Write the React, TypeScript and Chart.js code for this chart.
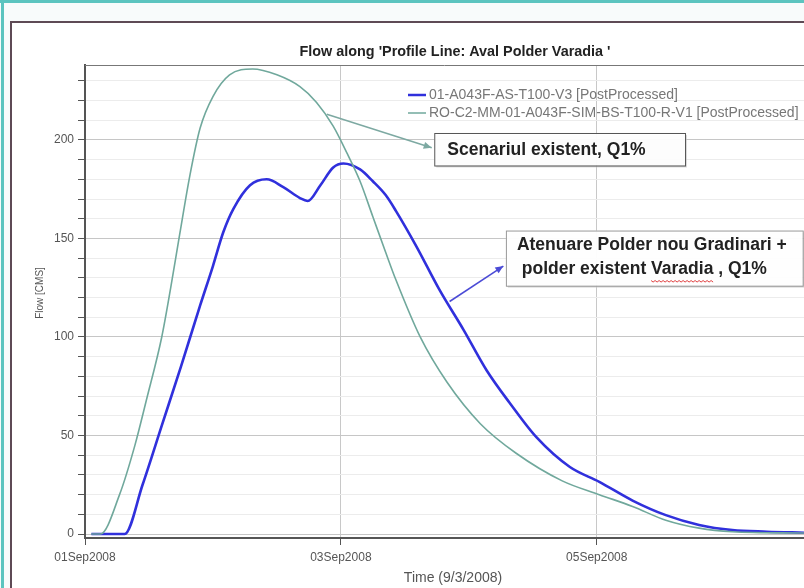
import React, { useEffect, useRef } from "react";
import { Chart, registerables } from "chart.js";

Chart.register(...registerables);

// ---- data ----
const xTickLabels = ["01Sep2008", "03Sep2008", "05Sep2008"];
const xTickDays = [0, 2, 4];

const seriesNames = [
  "01-A043F-AS-T100-V3 [PostProcessed]",
  "RO-C2-MM-01-A043F-SIM-BS-T100-R-V1 [PostProcessed]",
];

// days after 01Sep2008 00:00
const blueDays = [0.05, 0.31, 0.45, 0.6, 0.75, 0.9, 1.0, 1.08, 1.16, 1.29, 1.42, 1.55, 1.68, 1.74, 1.84, 1.94, 2.02, 2.15, 2.25, 2.35, 2.43, 2.59, 2.77, 2.96, 3.14, 3.32, 3.53, 3.79, 4.02, 4.28, 4.54, 4.8, 5.06, 5.33, 5.62];
const blueFlow = [0, 0, 25, 55, 85, 116, 136, 153, 165, 177, 180, 176, 170.5, 169, 177, 186, 188, 185, 179, 172, 164, 146, 124, 103.5, 83, 66.5, 49, 34, 26.5, 17, 9.6, 4.6, 2, 1.2, 0.7];

const greenDays = [0.05, 0.12, 0.27, 0.39, 0.48, 0.6, 0.67, 0.74, 0.82, 0.9, 1.0, 1.13, 1.31, 1.5, 1.68, 1.81, 1.94, 2.05, 2.15, 2.25, 2.35, 2.43, 2.62, 2.83, 3.09, 3.37, 3.73, 4.02, 4.28, 4.54, 4.8, 5.06, 5.62];
const greenFlow = [0, 0, 20, 45, 68, 100, 125, 152, 182, 206, 222, 233, 236, 233, 227, 219, 207, 193, 179, 161, 143, 129, 100, 77, 56, 41, 27, 20, 14, 7, 3, 1.2, 0.5];

const chartTitle = "Flow along 'Profile Line: Aval Polder Varadia '";
const yAxisTitle = "Flow [CMS]";
const xAxisTitle = "Time (9/3/2008)";

const note1Lines = ["Scenariul existent, Q1%"];
const note2Lines = ["Atenuare Polder nou Gradinari +", " polder existent Varadia , Q1%"];

// annotation anchors in data units (day, flow)
const note1Arrow = [[1.89, 213], [2.71, 196]];
const note1Box = [[2.73, 203.5], [4.69, 187]];
const note2Arrow = [[2.85, 118], [3.27, 136]];
const note2Box = [[3.29, 154], [5.61, 126]];

const BLUE = "#3030dc";
const GREEN = "#70a89c";
const FONT = "'Liberation Sans', Arial, sans-serif";

function arrow(ctx: CanvasRenderingContext2D, x1: number, y1: number, x2: number, y2: number, color: string) {
  ctx.save();
  ctx.strokeStyle = color;
  ctx.fillStyle = color;
  ctx.lineWidth = 1.5;
  ctx.beginPath();
  ctx.moveTo(x1, y1);
  ctx.lineTo(x2, y2);
  ctx.stroke();
  const a = Math.atan2(y2 - y1, x2 - x1);
  const L = 8, W = 3.5;
  ctx.beginPath();
  ctx.moveTo(x2, y2);
  ctx.lineTo(x2 - L * Math.cos(a) + W * Math.sin(a), y2 - L * Math.sin(a) - W * Math.cos(a));
  ctx.lineTo(x2 - L * Math.cos(a) - W * Math.sin(a), y2 - L * Math.sin(a) + W * Math.cos(a));
  ctx.closePath();
  ctx.fill();
  ctx.restore();
}

const decorPlugin = {
  id: "decor",
  beforeDraw(chart: any) {
    const ctx: CanvasRenderingContext2D = chart.ctx;
    const W = chart.width, H = chart.height;
    ctx.save();
    ctx.fillStyle = "#f8fbfb";
    ctx.fillRect(0, 0, W, H);
    ctx.fillStyle = "#ffffff";
    ctx.fillRect(12, 22, W - 12, H - 22);
    ctx.fillStyle = "#5cc4bf";
    ctx.fillRect(0, 0, W, 3);
    ctx.fillRect(1, 0, 3, H);
    ctx.fillStyle = "#5e4a55";
    ctx.fillRect(10, 21, W - 10, 2);
    ctx.fillRect(10, 21, 2, H - 21);
    ctx.restore();
  },
  afterDraw(chart: any) {
    const ctx: CanvasRenderingContext2D = chart.ctx;
    const a = chart.chartArea;
    const xs = chart.scales.x, ys = chart.scales.y;
    const px = (d: number) => xs.getPixelForValue(d);
    const py = (v: number) => ys.getPixelForValue(v);
    ctx.save();
    ctx.strokeStyle = "#777";
    ctx.lineWidth = 1;
    ctx.beginPath();
    ctx.moveTo(a.left, a.top + 0.5);
    ctx.lineTo(a.right, a.top + 0.5);
    ctx.stroke();

    // title
    ctx.fillStyle = "#222";
    ctx.font = `bold 14.4px ${FONT}`;
    ctx.textAlign = "center";
    ctx.textBaseline = "middle";
    ctx.fillText(chartTitle, 455, 52);

    // axis titles
    ctx.fillStyle = "#555";
    ctx.font = `14px ${FONT}`;
    ctx.fillText(xAxisTitle, 453, 578);
    ctx.save();
    ctx.translate(40, 293);
    ctx.rotate(-Math.PI / 2);
    ctx.font = `10px ${FONT}`;
    ctx.fillText(yAxisTitle, 0, 0);
    ctx.restore();

    // legend
    const legY = [95, 113];
    const legCol = [BLUE, GREEN];
    const legW = [2.5, 1.5];
    ctx.font = `14px ${FONT}`;
    ctx.textAlign = "left";
    for (let i = 0; i < 2; i++) {
      ctx.strokeStyle = legCol[i];
      ctx.lineWidth = legW[i];
      ctx.beginPath();
      ctx.moveTo(408, legY[i]);
      ctx.lineTo(426, legY[i]);
      ctx.stroke();
      ctx.fillStyle = "#777";
      ctx.fillText(seriesNames[i], 429, legY[i] + 0.5);
    }

    // annotation 1
    arrow(ctx, px(note1Arrow[0][0]), py(note1Arrow[0][1]), px(note1Arrow[1][0]), py(note1Arrow[1][1]), "#7da9a2");
    {
      const x1 = px(note1Box[0][0]), y1 = py(note1Box[0][1]);
      const x2 = px(note1Box[1][0]), y2 = py(note1Box[1][1]);
      ctx.fillStyle = "rgba(200,200,200,0.6)";
      ctx.fillRect(x1 + 2, y1 + 2, x2 - x1, y2 - y1);
      ctx.fillStyle = "rgba(255,255,255,0.92)";
      ctx.fillRect(x1, y1, x2 - x1, y2 - y1);
      ctx.strokeStyle = "#555";
      ctx.lineWidth = 1;
      ctx.strokeRect(x1 + 0.5, y1 + 0.5, x2 - x1, y2 - y1);
      ctx.fillStyle = "#222";
      ctx.font = `bold 17.5px ${FONT}`;
      ctx.textAlign = "left";
      ctx.fillText(note1Lines[0], x1 + 13, (y1 + y2) / 2 + 1);
    }

    // annotation 2
    arrow(ctx, px(note2Arrow[0][0]), py(note2Arrow[0][1]), px(note2Arrow[1][0]), py(note2Arrow[1][1]), "#4b4bd6");
    {
      const x1 = px(note2Box[0][0]), y1 = py(note2Box[0][1]);
      const x2 = px(note2Box[1][0]), y2 = py(note2Box[1][1]);
      ctx.fillStyle = "rgba(200,200,200,0.6)";
      ctx.fillRect(x1 + 2, y1 + 2, x2 - x1, y2 - y1);
      ctx.fillStyle = "rgba(255,255,255,0.95)";
      ctx.fillRect(x1, y1, x2 - x1, y2 - y1);
      ctx.strokeStyle = "#999";
      ctx.lineWidth = 1;
      ctx.strokeRect(x1 + 0.5, y1 + 0.5, x2 - x1, y2 - y1);
      ctx.fillStyle = "#222";
      ctx.font = `bold 17.5px ${FONT}`;
      ctx.textAlign = "left";
      const tx = x1 + 11;
      ctx.fillText(note2Lines[0], tx, y1 + 15);
      ctx.fillText(note2Lines[1], tx, y1 + 39);
      const pre = ctx.measureText(" polder existent ").width;
      const w = ctx.measureText("Varadia").width;
      ctx.strokeStyle = "#e04040";
      ctx.lineWidth = 1;
      ctx.beginPath();
      const by = y1 + 50;
      for (let x = 0; x <= w; x += 2) {
        const yy = by + ((x / 2) % 2 === 0 ? 0 : 1.5);
        if (x === 0) ctx.moveTo(tx + pre + x, yy);
        else ctx.lineTo(tx + pre + x, yy);
      }
      ctx.stroke();
    }
    ctx.restore();
  },
};

export default function App() {
  const ref = useRef<HTMLCanvasElement | null>(null);
  useEffect(() => {
    if (!ref.current) return;
    const chart = new Chart(ref.current, {
      type: "line",
      data: {
        datasets: [
          {
            label: seriesNames[1],
            data: greenDays.map((d, i) => ({ x: d, y: greenFlow[i] })),
            borderColor: GREEN,
            borderWidth: 1.6,
            pointRadius: 0,
            cubicInterpolationMode: "monotone",
            fill: false,
          },
          {
            label: seriesNames[0],
            data: blueDays.map((d, i) => ({ x: d, y: blueFlow[i] })),
            borderColor: BLUE,
            borderWidth: 2.6,
            pointRadius: 0,
            cubicInterpolationMode: "monotone",
            fill: false,
          },
        ],
      },
      options: {
        responsive: false,
        animation: false,
        devicePixelRatio: 1,
        layout: { padding: { top: 65, left: 0, right: 0, bottom: 0 } },
        plugins: { legend: { display: false }, title: { display: false }, tooltip: { enabled: false } },
        scales: {
          x: {
            type: "linear",
            min: 0,
            max: 5.62,
            afterBuildTicks: (s: any) => {
              s.ticks = xTickDays.map((v) => ({ value: v }));
            },
            afterFit: (s: any) => {
              s.height = 50;
            },
            ticks: {
              autoSkip: false,
              maxRotation: 0,
              padding: 5,
              color: "#555",
              font: { family: FONT, size: 12 },
              callback: (v: any) => xTickLabels[xTickDays.indexOf(Number(v))] ?? "",
            },
            grid: {
              color: (c: any) => (c.tick && c.tick.value === 0 ? "rgba(0,0,0,0)" : "#c8c8c8"),
              tickColor: "#555",
              tickLength: 7,
              drawTicks: true,
            },
            border: { display: true, color: "#555", width: 2 },
          },
          y: {
            type: "linear",
            min: -2,
            max: 238,
            afterBuildTicks: (s: any) => {
              const t = [];
              for (let v = 0; v <= 230; v += 10) t.push({ value: v });
              s.ticks = t;
            },
            afterFit: (s: any) => {
              s.width = 85;
            },
            ticks: {
              autoSkip: false,
              padding: 4,
              color: "#555",
              font: { family: FONT, size: 12 },
              callback: (v: any) => (Number(v) % 50 === 0 ? String(v) : ""),
            },
            grid: {
              color: (c: any) => (c.tick && c.tick.value % 50 === 0 ? "#c6c6c6" : "#ececec"),
              tickColor: "#555",
              tickLength: 7,
              drawTicks: true,
            },
            border: { display: true, color: "#555", width: 2 },
          },
        },
      },
      plugins: [decorPlugin],
    } as any);
    return () => chart.destroy();
  }, []);
  return (
    <div style={{ position: "fixed", left: 0, top: 0, width: 804, height: 588 }}>
      <canvas ref={ref} width={804} height={588} style={{ display: "block", width: 804, height: 588 }} />
    </div>
  );
}
